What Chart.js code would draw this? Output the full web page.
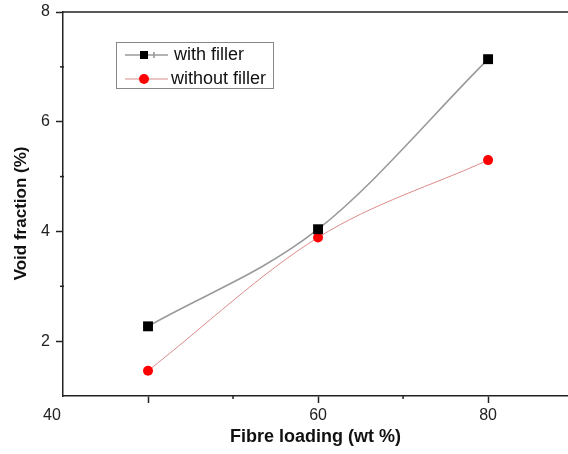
<!DOCTYPE html>
<html>
<head>
<meta charset="utf-8">
<script src="https://cdn.jsdelivr.net/npm/chart.js@4/dist/chart.umd.min.js"></script>
<style>
  html, body { margin: 0; padding: 0; background: #fff; }
  #wrap { width: 568px; height: 454px; }
</style>
</head>
<body>
<div id="wrap"><canvas id="myChart" width="568" height="454"></canvas></div>
<script>
// Données
const fibreLoading = [40, 60, 80];
const withFiller = [2.27, 4.04, 7.14];
const withoutFiller = [1.46, 3.89, 5.3];
const seriesNames = ["with filler", "without filler"];

// Étiquettes de l'axe x telles qu'elles apparaissent sur l'original
// (le "40" est décalé à gauche, d'où les espaces insécables)
const xTickLabels = { 30: "40\u00a0\u00a0\u00a0\u00a0\u00a0", 60: "60", 80: "80" };
const yTickLabels = [2, 4, 6, 8];

const axisColor = "#222";
const fontFamily = "'Liberation Sans', Arial, sans-serif";

const toPoints = (xs, ys) => xs.map((x, i) => ({ x: x, y: ys[i] }));

// Cadre du haut, petits traits mineurs et légende dans la zone de tracé
const extrasPlugin = {
  id: "extras",
  afterDraw(chart) {
    const { ctx, chartArea } = chart;
    const xs = chart.scales.x;
    const ys = chart.scales.y;
    ctx.save();
    ctx.strokeStyle = axisColor;
    ctx.lineWidth = 1.5;
    ctx.beginPath();
    ctx.moveTo(chartArea.left, chartArea.top);
    ctx.lineTo(chartArea.right, chartArea.top);
    ctx.stroke();

    // traits mineurs
    [50, 70].forEach((v) => {
      const px = xs.getPixelForValue(v);
      ctx.beginPath();
      ctx.moveTo(px, chartArea.bottom - 1);
      ctx.lineTo(px, chartArea.bottom + 3);
      ctx.stroke();
    });
    [3, 5, 7].forEach((v) => {
      const py = ys.getPixelForValue(v);
      ctx.beginPath();
      ctx.moveTo(chartArea.left - 3, py);
      ctx.lineTo(chartArea.left + 1, py);
      ctx.stroke();
    });

    // légende
    const bx = chartArea.left + 53;
    const by = chartArea.top + 30;
    ctx.strokeStyle = "#888";
    ctx.lineWidth = 1;
    ctx.strokeRect(bx + 0.5, by + 0.5, 157, 46);
    ctx.font = "18px " + fontFamily;
    ctx.textBaseline = "middle";
    chart.data.datasets.forEach((ds, i) => {
      const ly = by + 13 + i * 24;
      ctx.strokeStyle = ds.borderColor;
      ctx.lineWidth = ds.borderWidth;
      ctx.beginPath();
      ctx.moveTo(bx + 9, ly);
      ctx.lineTo(bx + 52, ly);
      ctx.stroke();
      if (i === 0) {
        ctx.beginPath();
        ctx.moveTo(bx + 38, ly - 3);
        ctx.lineTo(bx + 38, ly + 3);
        ctx.stroke();
      }
      const mx = bx + 28;
      ctx.fillStyle = ds.pointBackgroundColor;
      if (ds.pointStyle === "rect") {
        ctx.fillRect(mx - 4, ly - 4, 8, 8);
      } else {
        ctx.beginPath();
        ctx.arc(mx, ly, 5, 0, Math.PI * 2);
        ctx.fill();
      }
      ctx.fillStyle = "#111";
      ctx.fillText(ds.label, bx + 58 - i * 3, ly);
    });
    ctx.restore();
  },
};

const ctx = document.getElementById("myChart").getContext("2d");
new Chart(ctx, {
  type: "line",
  data: {
    datasets: [
      {
        label: seriesNames[0],
        data: toPoints(fibreLoading, withFiller),
        borderColor: "#9a9a9a",
        borderWidth: 1.6,
        pointStyle: "rect",
        pointRadius: 7,
        pointBackgroundColor: "#000",
        pointBorderColor: "#000",
        pointBorderWidth: 0,
        cubicInterpolationMode: "monotone",
      },
      {
        label: seriesNames[1],
        data: toPoints(fibreLoading, withoutFiller),
        borderColor: "#dc8a8a",
        borderWidth: 1,
        pointStyle: "circle",
        pointRadius: 5,
        pointBackgroundColor: "#f00",
        pointBorderColor: "#f00",
        pointBorderWidth: 0,
        cubicInterpolationMode: "monotone",
      },
    ],
  },
  options: {
    responsive: false,
    animation: false,
    layout: { autoPadding: false, padding: { top: 12, right: 0, left: 0, bottom: 0 } },
    plugins: { legend: { display: false }, tooltip: { enabled: false } },
    scales: {
      x: {
        type: "linear",
        min: 30,
        max: 89.4,
        afterFit(scale) {
          scale.height = 58;
          scale.paddingRight = 0;
          scale.paddingLeft = 0;
        },
        ticks: {
          stepSize: 10,
          includeBounds: false,
          autoSkip: false,
          maxRotation: 0,
          padding: 3,
          color: "#222",
          font: { size: 16, family: fontFamily },
          callback: (v) => xTickLabels[v] || "",
        },
        grid: {
          drawOnChartArea: false,
          tickLength: 7,
          tickWidth: 1.5,
          tickColor: (c) => ([40, 60, 80].includes(c.tick && c.tick.value) ? axisColor : "rgba(0,0,0,0)"),
        },
        border: { color: axisColor, width: 1.5 },
        title: {
          display: true,
          text: "Fibre loading (wt %)",
          color: "#111",
          font: { size: 18, weight: "bold", family: fontFamily },
          padding: { top: 0, bottom: 6 },
        },
      },
      y: {
        min: 1,
        max: 8,
        afterFit(scale) {
          scale.width = 63;
          scale.paddingTop = 0;
          scale.paddingBottom = 0;
        },
        ticks: {
          stepSize: 1,
          autoSkip: false,
          padding: 6,
          color: "#222",
          font: { size: 16, family: fontFamily },
          callback: (v) => (yTickLabels.includes(v) ? String(v) : ""),
        },
        grid: {
          drawOnChartArea: false,
          tickLength: 7,
          tickWidth: 1.5,
          tickColor: (c) => (yTickLabels.includes(c.tick && c.tick.value) ? axisColor : "rgba(0,0,0,0)"),
        },
        border: { color: axisColor, width: 1.5 },
        title: {
          display: true,
          text: "Void fraction (%)\u00a0\u00a0\u00a0\u00a0",
          color: "#111",
          font: { size: 17, weight: "bold", family: fontFamily },
          padding: { top: 11, bottom: 0 },
        },
      },
    },
  },
  plugins: [extrasPlugin],
});
</script>
</body>
</html>
